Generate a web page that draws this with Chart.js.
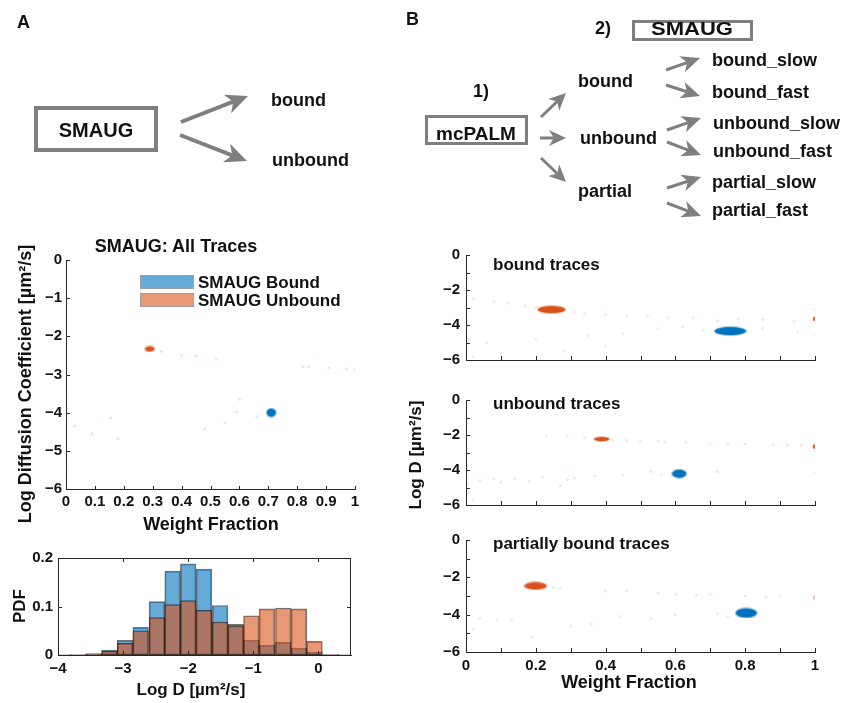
<!DOCTYPE html>
<html>
<head>
<meta charset="utf-8">
<script src="https://cdn.jsdelivr.net/npm/chart.js@4.4.1/dist/chart.umd.min.js"></script>
<style>
  body { margin: 0; background: #fff; width: 843px; height: 703px; position: relative; overflow: hidden; }
  canvas { position: absolute; }
  #overlay { position: absolute; left: 0; top: 0; pointer-events: none; }
  #overlay text { font-family: 'Liberation Sans', Arial, sans-serif; font-weight: bold; fill: #111; }
</style>
</head>
<body>
<canvas id="allTraces" width="380" height="310" style="left:0;top:230px"></canvas>
<canvas id="histD" width="380" height="163" style="left:0;top:540px"></canvas>
<canvas id="boundPanel" width="430" height="135" style="left:400px;top:240px"></canvas>
<canvas id="unboundPanel" width="430" height="135" style="left:400px;top:385px"></canvas>
<canvas id="partialPanel" width="430" height="178" style="left:400px;top:525px"></canvas>
<svg id="overlay" width="843" height="703"></svg>
<script>
// ---- data ----

// A: SMAUG, all traces
const allBoundPeak = [{x: 0.71, y: -4.0}];
const allUnboundPeak = [{x: 0.29, y: -2.33}];
const allBoundSpread = [
  {x: 0, y: -3.6}, {x: 0, y: -4.2}, {x: 0.03, y: -4.35}, {x: 0.09, y: -4.55}, {x: 0.155, y: -4.13},
  {x: 0.18, y: -4.68}, {x: 0.48, y: -4.42}, {x: 0.55, y: -4.27}, {x: 0.6, y: -3.65}, {x: 0.59, y: -3.97},
  {x: 0.66, y: -4.1}, {x: 0, y: -5.5}
];
const allUnboundSpread = [
  {x: 0.33, y: -2.4}, {x: 0.4, y: -2.5}, {x: 0.45, y: -2.52}, {x: 0.52, y: -2.6}, {x: 0.82, y: -2.8},
  {x: 0.84, y: -2.8}, {x: 0.91, y: -2.82}, {x: 0.97, y: -2.85}, {x: 1.0, y: -2.87}
];

// A: PDF of log D
const binCenters = [-3.94, -3.69, -3.45, -3.21, -2.97, -2.73, -2.48, -2.24, -2.00, -1.76,
                    -1.51, -1.27, -1.03, -0.79, -0.54, -0.30, -0.06, 0.19, 0.43];
const pdfBound = [0.0005, 0.001, 0.003, 0.01, 0.03, 0.057, 0.11, 0.173, 0.188, 0.177,
                  0.102, 0.063, 0.031, 0.02, 0.026, 0.014, 0.006, 0.001, 0.0005];
const pdfUnbound = [0.0003, 0.0005, 0.002, 0.008, 0.024, 0.05, 0.077, 0.104, 0.112, 0.092,
                    0.068, 0.06, 0.081, 0.095, 0.097, 0.095, 0.028, 0.001, 0.0005];

// B: bound traces
const bndBoundPeak = [{x: 0.757, y: -4.35}];
const bndUnboundPeak = [{x: 0.245, y: -3.12}];
const bndUnboundEnd = [{x: 1.0, y: -3.65}];
const bndUnboundSpread = [
  {x: 0, y: -1.6}, {x: 0, y: -2.3}, {x: 0.02, y: -2.5}, {x: 0.08, y: -2.65}, {x: 0.12, y: -2.75},
  {x: 0.17, y: -2.9}, {x: 0.2, y: -3.0}, {x: 0.31, y: -3.25}, {x: 0.34, y: -3.35}, {x: 0.4, y: -3.4},
  {x: 0.46, y: -3.5}, {x: 0.52, y: -3.5}, {x: 0.58, y: -3.6}, {x: 0.65, y: -3.6}, {x: 0.72, y: -3.75},
  {x: 0.78, y: -3.65}, {x: 0.85, y: -3.7}, {x: 0.94, y: -3.8}, {x: 1.0, y: -3.1}
];
const bndBoundSpread = [
  {x: 0, y: -3.6}, {x: 0, y: -4.2}, {x: 0.01, y: -4.8}, {x: 0, y: -5.3}, {x: 0.02, y: -5.8},
  {x: 0.06, y: -5.0}, {x: 0.1, y: -5.6}, {x: 0.2, y: -4.8}, {x: 0.28, y: -5.5}, {x: 0.35, y: -4.6},
  {x: 0.4, y: -5.2}, {x: 0.45, y: -4.5}, {x: 0.55, y: -4.2}, {x: 0.62, y: -4.1}, {x: 0.68, y: -4.3},
  {x: 0.85, y: -4.2}, {x: 0.95, y: -4.4}, {x: 1.0, y: -4.6}
];

// B: unbound traces
const unbBoundPeak = [{x: 0.611, y: -4.21}];
const unbUnboundPeak = [{x: 0.389, y: -2.23}];
const unbUnboundEnd = [{x: 1.0, y: -2.66}];
const unbUnboundSpread = [
  {x: 0.23, y: -2.05}, {x: 0.29, y: -2.08}, {x: 0.34, y: -2.15}, {x: 0.42, y: -2.28}, {x: 0.46, y: -2.3},
  {x: 0.5, y: -2.35}, {x: 0.55, y: -2.36}, {x: 0.57, y: -2.38}, {x: 0.63, y: -2.42}, {x: 0.7, y: -2.48},
  {x: 0.75, y: -2.5}, {x: 0.8, y: -2.52}, {x: 0.88, y: -2.56}, {x: 0.92, y: -2.58}, {x: 0.96, y: -2.6}
];
const unbBoundSpread = [
  {x: 0, y: -3.9}, {x: 0, y: -4.2}, {x: 0, y: -4.5}, {x: 0.005, y: -4.8}, {x: 0.01, y: -5.3},
  {x: 0.02, y: -5.7}, {x: 0.04, y: -4.6}, {x: 0.08, y: -4.5}, {x: 0.1, y: -4.7}, {x: 0.14, y: -4.5},
  {x: 0.18, y: -4.65}, {x: 0.22, y: -4.4}, {x: 0.27, y: -4.9}, {x: 0.29, y: -4.55}, {x: 0.31, y: -4.45},
  {x: 0.37, y: -4.35}, {x: 0.45, y: -4.3}, {x: 0.53, y: -4.1}, {x: 0.56, y: -4.25}, {x: 0.72, y: -4.1},
  {x: 1.0, y: -4.15}
];

// B: partially bound traces
const prtBoundPeak = [{x: 0.803, y: -3.91}];
const prtUnboundPeak = [{x: 0.199, y: -2.46}];
const prtUnboundEnd = [{x: 1.0, y: -3.1}];
const prtUnboundSpread = [
  {x: 0.25, y: -2.55}, {x: 0.27, y: -2.6}, {x: 0.4, y: -2.75}, {x: 0.46, y: -2.72}, {x: 0.55, y: -2.85},
  {x: 0.6, y: -2.9}, {x: 0.66, y: -2.95}, {x: 0.7, y: -2.9}, {x: 0.8, y: -3.0}, {x: 0.86, y: -3.05},
  {x: 0.9, y: -3.0}
];
const prtBoundSpread = [
  {x: 0, y: -3.5}, {x: 0, y: -4.4}, {x: 0.02, y: -4.8}, {x: 0.04, y: -4.2}, {x: 0.09, y: -4.3},
  {x: 0.13, y: -4.3}, {x: 0.19, y: -5.2}, {x: 0.3, y: -4.6}, {x: 0.36, y: -4.5}, {x: 0.44, y: -4.1},
  {x: 0.53, y: -4.2}, {x: 0.6, y: -4.0}, {x: 0.72, y: -3.95}, {x: 0.75, y: -4.1}
];

// tick values
const fracTicks = [0, 0.1, 0.2, 0.3, 0.4, 0.5, 0.6, 0.7, 0.8, 0.9, 1];
const logDTicksA = [-6, -5, -4, -3, -2, -1, 0];
const logDTicksB = [-6, -5, -4, -3, -2, -1, 0];
const histXTicks = [-4, -3, -2, -1, 0];
const histYTicks = [0, 0.1, 0.2];

// ---- styling ----
const BLUE = '#0072BD', ORANGE = '#D95319';
const BLUE_RGB = '0,114,189', ORANGE_RGB = '217,83,25';
const AXIS = '#262626';
const FONT = "'Liberation Sans', Arial, sans-serif";

Chart.defaults.font.family = FONT;
Chart.defaults.font.weight = 'bold';
Chart.defaults.font.size = 15;
Chart.defaults.color = '#111';
Chart.defaults.animation = false;
Chart.defaults.responsive = false;
Chart.defaults.plugins.legend.display = false;
Chart.defaults.plugins.tooltip.enabled = false;

const fmt = v => String(Math.round(v * 10) / 10).replace('-', '\u2212');
const evenLabel = v => (Math.round(v) % 2 === 0 ? fmt(v) : '');
const evenTenth = v => (Math.round(v * 10) % 2 === 0 ? fmt(v) : '');

// matlab-like ticks pointing into the axes
const innerTicks = {
  id: 'innerTicks',
  afterDatasetsDraw(chart, args, opts) {
    const {ctx, chartArea: a, scales} = chart;
    ctx.save();
    ctx.strokeStyle = AXIS;
    ctx.lineWidth = 1;
    ctx.beginPath();
    if (opts.box) ctx.rect(Math.round(a.left) + 0.5, Math.round(a.top) + 0.5, Math.round(a.width) - 1, Math.round(a.height));
    if (opts.x) {
      scales.x.ticks.forEach(t => {
        const p = Math.round(scales.x.getPixelForValue(t.value)) + 0.5;
        ctx.moveTo(p, a.bottom); ctx.lineTo(p, a.bottom - opts.x);
        if (opts.box) { ctx.moveTo(p, a.top); ctx.lineTo(p, a.top + opts.x); }
      });
    }
    if (opts.y) {
      scales.y.ticks.forEach(t => {
        const p = Math.round(scales.y.getPixelForValue(t.value)) + 0.5;
        ctx.moveTo(a.left, p); ctx.lineTo(a.left + opts.y, p);
        if (opts.box) { ctx.moveTo(a.right, p); ctx.lineTo(a.right - opts.y, p); }
      });
    }
    ctx.stroke();
    ctx.restore();
  }
};
Chart.register(innerTicks);

function axis({min, max, ticks, size, pad = 5, show = true, label = fmt}) {
  return {
    type: 'linear', min, max, offset: false,
    afterBuildTicks: s => { s.ticks = ticks.map(v => ({value: v})); },
    afterFit: s => { if (s.isHorizontal()) s.height = size; else s.width = size; },
    grid: {display: false, drawTicks: false},
    border: {display: true, color: AXIS, width: 1},
    ticks: {display: show, padding: pad, autoSkip: false, maxRotation: 0, callback: label}
  };
}

// elliptical blob used for the dense clusters (soft rim, solid core)
function blob(w, h, color) {
  const c = document.createElement('canvas');
  c.width = w + 2; c.height = h + 2;
  const g = c.getContext('2d');
  g.fillStyle = color;
  g.globalAlpha = 0.35;
  g.beginPath();
  g.ellipse(c.width / 2, c.height / 2, w / 2 + 1, h / 2 + 1, 0, 0, Math.PI * 2);
  g.fill();
  g.globalAlpha = 1;
  g.beginPath();
  g.ellipse(c.width / 2, c.height / 2, w / 2, h / 2, 0, 0, Math.PI * 2);
  g.fill();
  return c;
}
const spread = (data, rgb, a) => ({data, pointRadius: 1.5, pointBorderWidth: 0, pointBackgroundColor: `rgba(${rgb},${a})`});
const peak = (data, w, h, color) => ({data, pointStyle: blob(w, h, color)});
const dot = (data, r, color) => ({data, pointRadius: r, pointBorderWidth: 0, pointBackgroundColor: color});

// ---- A: scatter ----
new Chart(document.getElementById('allTraces'), {
  type: 'scatter',
  data: {datasets: [
    peak(allBoundPeak, 9, 8, BLUE),
    peak(allUnboundPeak, 9, 5, ORANGE),
    spread(allBoundSpread, BLUE_RGB, 0.14),
    spread(allUnboundSpread, ORANGE_RGB, 0.18)
  ]},
  options: {
    layout: {padding: {top: 30, right: 25, left: 0, bottom: 0}},
    scales: {
      x: axis({min: 0, max: 1, ticks: fracTicks, size: 51, pad: 4}),
      y: axis({min: -6, max: 0, ticks: logDTicksA, size: 66, pad: 4})
    },
    plugins: {innerTicks: {x: 3, y: 4}}
  }
});

// ---- A: histogram ----
new Chart(document.getElementById('histD'), {
  type: 'bar',
  data: {datasets: [
    {data: binCenters.map((c, i) => ({x: c, y: pdfUnbound[i]})), backgroundColor: 'rgba(217,83,25,0.6)'},
    {data: binCenters.map((c, i) => ({x: c, y: pdfBound[i]})), backgroundColor: 'rgba(0,114,189,0.6)'}
  ]},
  options: {
    datasets: {bar: {grouped: false, barPercentage: 1, categoryPercentage: 1, borderWidth: 1,
                     borderColor: 'rgba(0,0,0,0.55)', borderSkipped: false}},
    layout: {padding: {top: 18, right: 29, left: 0, bottom: 0}},
    scales: {
      x: axis({min: -4, max: 0.5, ticks: histXTicks, size: 48, pad: 5}),
      y: axis({min: 0, max: 0.2, ticks: histYTicks, size: 58, pad: 5})
    },
    plugins: {innerTicks: {x: 4, y: 4, box: true}}
  }
});

// ---- B: three panels ----
const panelBlobs = {
  bound: {blue: [31, 8], orange: [27, 7]},
  unbound: {blue: [14, 8], orange: [15, 4]},
  partial: {blue: [21, 9], orange: [22, 7]}
};
function panel(id, blobs, sets, bottom) {
  return new Chart(document.getElementById(id), {
    type: 'scatter',
    data: {datasets: [
      peak(sets.boundPeak, blobs.blue[0], blobs.blue[1], BLUE),
      peak(sets.unboundPeak, blobs.orange[0], blobs.orange[1], ORANGE),
      dot(sets.unboundEnd, 2.4, sets.endColor),
      spread(sets.boundSpread, BLUE_RGB, 0.12),
      spread(sets.unboundSpread, ORANGE_RGB, 0.15)
    ]},
    options: {
      layout: {padding: {top: 14, right: 15, left: 0, bottom: 0}},
      scales: {
        x: axis({min: 0, max: 1, ticks: fracTicks, size: bottom ? 51 : 8, pad: 5, show: bottom, label: evenTenth}),
        y: axis({min: -6, max: 0, ticks: logDTicksB, size: 66, pad: 6, label: evenLabel})
      },
      plugins: {innerTicks: {x: 4, y: 4}}
    }
  });
}
panel('boundPanel', panelBlobs.bound, {
  boundPeak: bndBoundPeak, unboundPeak: bndUnboundPeak, unboundEnd: bndUnboundEnd, endColor: 'rgba(217,83,25,0.8)',
  boundSpread: bndBoundSpread, unboundSpread: bndUnboundSpread
}, false);
panel('unboundPanel', panelBlobs.unbound, {
  boundPeak: unbBoundPeak, unboundPeak: unbUnboundPeak, unboundEnd: unbUnboundEnd, endColor: 'rgba(217,83,25,0.9)',
  boundSpread: unbBoundSpread, unboundSpread: unbUnboundSpread
}, false);
panel('partialPanel', panelBlobs.partial, {
  boundPeak: prtBoundPeak, unboundPeak: prtUnboundPeak, unboundEnd: prtUnboundEnd, endColor: 'rgba(217,83,25,0.35)',
  boundSpread: prtBoundSpread, unboundSpread: prtUnboundSpread
}, true);

// ---- labels, legend and the two workflow diagrams ----
const GREY = '#7f7f7f';
let svg = '';
function text(x, y, s, size, anchor = 'start', extra = '') {
  svg += `<text x="${x}" y="${y}" font-size="${size}" text-anchor="${anchor}" ${extra}>${s}</text>`;
}
function vtext(x, y, s, size) {
  svg += `<text transform="translate(${x},${y}) rotate(-90)" font-size="${size}" text-anchor="middle" dominant-baseline="central">${s}</text>`;
}
function box(x, y, w, h, lw) {
  svg += `<rect x="${x}" y="${y}" width="${w}" height="${h}" fill="none" stroke="${GREY}" stroke-width="${lw}"/>`;
}
function arrow(x1, y1, x2, y2, len, w, lw) {
  const L = Math.hypot(x2 - x1, y2 - y1), ux = (x2 - x1) / L, uy = (y2 - y1) / L, px = -uy, py = ux;
  const bx = x2 - ux * len, by = y2 - uy * len;
  const nx = x2 - ux * len * 0.72, ny = y2 - uy * len * 0.72;
  svg += `<line x1="${x1}" y1="${y1}" x2="${nx}" y2="${ny}" stroke="${GREY}" stroke-width="${lw}"/>`;
  svg += `<polygon fill="${GREY}" points="${x2},${y2} ${bx + px * w / 2},${by + py * w / 2} ${nx},${ny} ${bx - px * w / 2},${by - py * w / 2}"/>`;
}

// panel A diagram
text(17, 28, 'A', 18);
box(36, 108, 120, 42, 4);
text(96, 137, 'SMAUG', 20, 'middle');
arrow(181, 122, 248, 96, 22, 20, 4);
arrow(180, 135, 247, 161, 22, 20, 4);
text(271, 106, 'bound', 18);
text(272, 166, 'unbound', 18);

// panel B diagram
text(406, 25, 'B', 18);
text(595, 34, '2)', 18);
box(633.5, 21.5, 118, 18, 3);
text(692, 35, 'SMAUG', 18, 'middle', 'textLength="82" lengthAdjust="spacingAndGlyphs"');
text(473, 97, '1)', 18);
box(426.5, 116.5, 100, 27, 3);
text(476, 140, 'mcPALM', 19, 'middle');
arrow(541, 117, 566, 93, 17, 16, 3);
arrow(540, 138, 566, 138, 17, 16, 3);
arrow(541, 158, 566, 182, 17, 16, 3);
text(578, 87, 'bound', 18);
text(580, 144, 'unbound', 18);
text(578, 197, 'partial', 18);
arrow(666, 70, 700, 58, 19, 17, 3);
arrow(666, 85, 700, 96, 19, 17, 3);
arrow(667, 130, 701, 118, 19, 17, 3);
arrow(667, 142, 701, 155, 19, 17, 3);
arrow(667, 188, 701, 177, 19, 17, 3);
arrow(667, 203, 701, 216, 19, 17, 3);
text(712, 66, 'bound_slow', 18);
text(712, 98, 'bound_fast', 18);
text(713, 129, 'unbound_slow', 18);
text(713, 157, 'unbound_fast', 18);
text(712, 188, 'partial_slow', 18);
text(712, 216, 'partial_fast', 18);

// panel A chart texts
text(176, 252, 'SMAUG: All Traces', 18, 'middle');
svg += `<rect x="140.5" y="275.5" width="53" height="13" fill="#66aad7" stroke="#a0a0a0" stroke-width="1"/>`;
svg += `<rect x="140.5" y="293.5" width="53" height="13" fill="#e89a77" stroke="#a0a0a0" stroke-width="1"/>`;
text(198, 288, 'SMAUG Bound', 17);
text(198, 306, 'SMAUG Unbound', 17);
vtext(25, 384, 'Log Diffusion Coefficient [µm²/s]', 18);
text(211, 530, 'Weight Fraction', 18, 'middle');
vtext(19, 606, 'PDF', 17);
text(191, 695, 'Log D [µm²/s]', 17, 'middle');

// panel B chart texts
text(493, 270, 'bound traces', 17);
text(493, 409, 'unbound traces', 17);
text(493, 549, 'partially bound traces', 17);
vtext(415, 455, 'Log D [µm²/s]', 17);
text(629, 688, 'Weight Fraction', 18, 'middle');

document.getElementById('overlay').innerHTML = svg;
</script>
</body>
</html>
